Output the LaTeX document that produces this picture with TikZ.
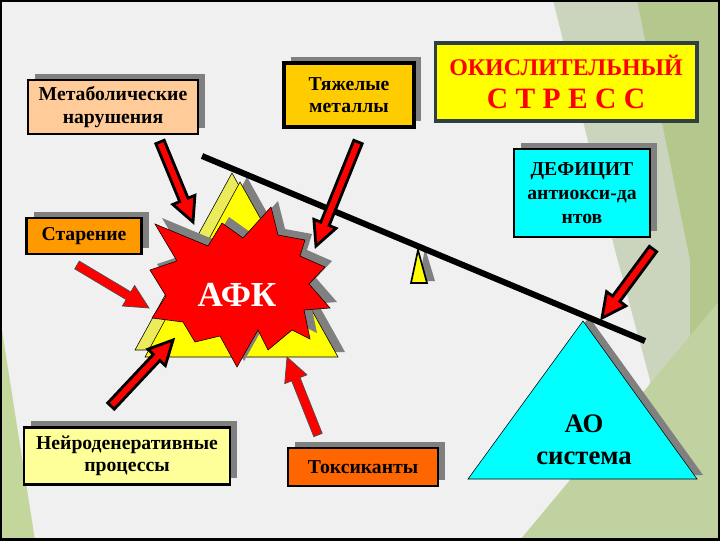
\documentclass[tikz,border=0pt]{standalone}
\usepackage{fontspec}
\setmainfont{Liberation Serif}
\usetikzlibrary{calc,shadows}

\definecolor{bggray}{RGB}{240,240,240}
\definecolor{leafgreen}{RGB}{195,214,155}
\definecolor{facetgray}{RGB}{203,212,188}
\definecolor{facetgreen}{RGB}{180,200,142}
\definecolor{facetlight}{RGB}{192,210,160}
\definecolor{peach}{RGB}{255,204,153}
\definecolor{gold}{RGB}{255,204,0}
\definecolor{amber}{RGB}{255,153,0}
\definecolor{toxorange}{RGB}{255,102,0}
\definecolor{paleyellow}{RGB}{255,255,153}
\definecolor{dimyellow}{RGB}{236,236,90}
\definecolor{lemon}{RGB}{255,255,0}
\definecolor{aqua}{RGB}{0,255,255}
\definecolor{fire}{RGB}{255,0,0}
\definecolor{slate}{RGB}{47,64,64}

% block arrow: [style]{tail}{tip}
\newcommand{\redarrow}[3][]{%
  \coordinate (hb) at ($(#3)!17pt!(#2)$);
  \draw[fill=fire,#1]
    ($(#2)!3.2pt!90:(#3)$) -- ($(hb)!3.2pt!90:(#3)$) -- ($(hb)!8.5pt!90:(#3)$) --
    (#3) --
    ($(hb)!8.5pt!-90:(#3)$) -- ($(hb)!3.2pt!-90:(#3)$) -- ($(#2)!3.2pt!-90:(#3)$) -- cycle;
}
\newcommand{\afkstar}{(155,224) -- (208,246) -- (222,223) -- (243,238) -- (271,207) --
  (278,235) -- (305,240) -- (300,256) -- (325,267) -- (309,284) -- (330,308) --
  (304,310) -- (310,339) -- (292,330) -- (268,350) -- (258,330) -- (237,367) --
  (220,336) -- (195,342) -- (183,322) -- (152,318) -- (166,296) -- (150,270) --
  (177,261) -- cycle}

\begin{document}
\begin{tikzpicture}[x=0.025cm,y=-0.025cm,line join=miter,
  box/.style={draw=black,line width=2pt,inner sep=0pt,align=center,
    font=\fontsize{14}{16}\selectfont\bfseries,
    drop shadow={shadow xshift=5pt,shadow yshift=4.5pt,opacity=1,fill=gray}},
  heavy/.style={draw=black,line width=2pt},
  light/.style={draw=black!70,line width=0.5pt}]
\useasboundingbox (0,0) rectangle (720,540);
\fill[bggray] (0,0) rectangle (720,540);
% background facets
\fill[leafgreen] (0,318) -- (35,540) -- (0,540) -- cycle;
\fill[facetgray] (553,0) -- (720,0) -- (720,540) -- (640,540) -- (650,380) -- (615,250) -- cycle;
\fill[facetgreen] (637,0) -- (720,0) -- (720,540) -- (690,540) -- (690,260) -- cycle;
\fill[facetlight] (520,540) -- (720,300) -- (720,540) -- cycle;

% boxes
\node[box,fill=peach,minimum width=4.25cm,minimum height=1.35cm] (metab) at (113,107) {Метаболические\\нарушения};
\node[box,fill=gold,line width=2.8pt,minimum width=3.25cm,minimum height=1.6cm] (metal) at (349,95) {Тяжелые\\металлы};
\node[draw=slate,line width=2.8pt,fill=lemon,inner sep=0pt,align=center,text=fire,
  font=\fontsize{17}{20}\selectfont\bfseries,
  minimum width=6.525cm,minimum height=1.95cm] (stress) at (566,82)
  {ОКИСЛИТЕЛЬНЫЙ\\[3pt]{\fontsize{21}{20}\selectfont С Т Р Е С С}};
\node[box,fill=aqua,font=\fontsize{14}{17}\selectfont\bfseries,minimum width=3.4cm,minimum height=2.2cm] (defic) at (582,193) {ДЕФИЦИТ\\антиокси-да\\нтов};
\node[box,fill=amber,minimum width=2.875cm,minimum height=0.9cm] (aging) at (84,236) {Старение};
\node[box,fill=paleyellow,minimum width=5.15cm,minimum height=1.425cm] (neuro) at (127,456) {Нейроденеративные\\процессы};
\node[box,fill=toxorange,minimum width=3.75cm,minimum height=0.95cm] (toxic) at (363,467) {Токсиканты};

% yellow pyramid and star
\filldraw[fill=dimyellow,draw=black,line width=0.4pt] (232,173) -- (135,350) -- (330,350) -- cycle;
\fill[gray] (247,177) -- (152,352) -- (345,352) -- cycle;
\filldraw[fill=lemon,draw=black,line width=0.4pt] (240,182) -- (145,357) -- (338,357) -- cycle;
\fill[gray,shift={(7,-6)}] \afkstar;
\filldraw[fill=fire,draw=black,line width=0.4pt] \afkstar;
\node[text=white,font=\fontsize{25}{25}\selectfont\bfseries] (afk) at (237,295) {АФК};

% AO pyramid
\fill[gray] (474,475) -- (589,317) -- (703,475) -- cycle;
\filldraw[fill=aqua,draw=black,line width=0.4pt] (468,479) -- (583,321) -- (697,479) -- cycle;
\node[align=center,font=\fontsize{19}{23}\selectfont\bfseries] (ao) at (584,440) {АО\\система};

% balance
\fill[gray] (425,248) -- (419,281) -- (435,281) -- cycle;
\filldraw[fill=lemon,draw=black,line width=1.2pt] (418,250) -- (411,283) -- (427,283) -- cycle;
\coordinate (beamL) at (202,156);
\coordinate (beamR) at (645,341);
\draw[line width=4.3pt] (beamL) -- (beamR);

% arrows
\coordinate (metabT) at (160,142);  \coordinate (metabH) at (193,222);
\coordinate (metalT) at (358,142);  \coordinate (metalH) at (316,246);
\coordinate (agingT) at (77,265);   \coordinate (agingH) at (149,308);
\coordinate (neuroT) at (111,406);  \coordinate (neuroH) at (173,340);
\coordinate (toxicT) at (318,435);  \coordinate (toxicH) at (287,357);
\coordinate (deficT) at (653,249);  \coordinate (deficH) at (602,318);
\redarrow[heavy]{metabT}{metabH}
\redarrow[heavy]{metalT}{metalH}
\redarrow[light]{agingT}{agingH}
\redarrow[heavy]{neuroT}{neuroH}
\redarrow[light]{toxicT}{toxicH}
\redarrow[heavy]{deficT}{deficH}

\draw[line width=3pt] (0,0) rectangle (720,540);
\end{tikzpicture}
\end{document}
